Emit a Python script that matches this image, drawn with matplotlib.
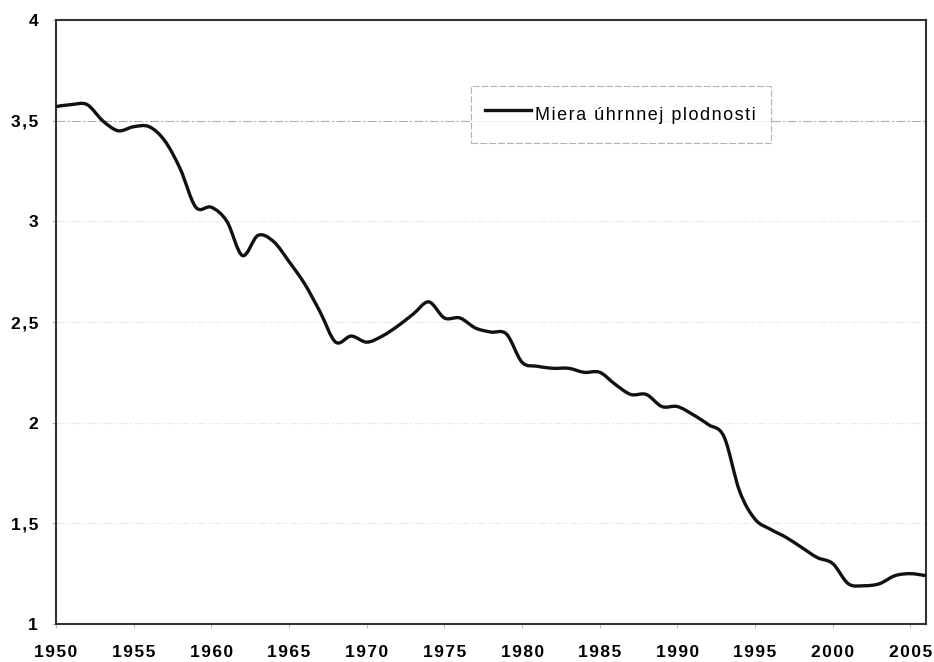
import matplotlib
matplotlib.use("Agg")
import matplotlib.pyplot as plt
from matplotlib.path import Path
from matplotlib.patches import PathPatch
from matplotlib.lines import Line2D
import numpy as np

years = list(range(1950, 2007))
tfr = [3.57, 3.58, 3.58, 3.50, 3.45, 3.47, 3.47, 3.40, 3.26, 3.07,
       3.07, 3.00, 2.83, 2.93, 2.90, 2.80, 2.69, 2.55, 2.40, 2.43,
       2.40, 2.43, 2.48, 2.54, 2.60, 2.52, 2.52, 2.47, 2.45, 2.44,
       2.30, 2.28, 2.27, 2.27, 2.25, 2.25, 2.19, 2.14, 2.14, 2.08,
       2.08, 2.04, 1.99, 1.93, 1.66, 1.52, 1.47, 1.43, 1.38, 1.33,
       1.30, 1.20, 1.19, 1.20, 1.24, 1.25, 1.24]
series_label = "Miera úhrnnej plodnosti"
x_ticks = list(range(1950, 2006, 5))
y_ticks = [1, 1.5, 2, 2.5, 3, 3.5, 4]
y_tick_labels = ["1", "1,5", "2", "2,5", "3", "3,5", "4"]

plt.rcParams['font.family'] = ['Liberation Sans', 'DejaVu Sans']

HAIR = "\u200a"


def spaced(s, sep):
    return sep.join(list(s))


fig = plt.figure(figsize=(9.34, 6.62), dpi=100)
ax = fig.add_axes([56/934, 38/662, 870/934, 604/662])
ax.set_xlim(1950, 2006)
ax.set_ylim(1, 4)

# gridlines
for yv in y_ticks[1:-1]:
    ax.axhline(yv, color='#ececec' if yv != 3.5 else '#b0b0b0',
               lw=0.8, ls=(0, (8, 2, 2, 2)), zorder=1)

# smoothed line (Excel-like) built from the data points
x = np.array(years, dtype=float)
y = np.array(tfr, dtype=float)
verts = [(x[0], y[0])]
codes = [Path.MOVETO]
n = len(x)
for i in range(n - 1):
    p0 = np.array([x[max(i - 1, 0)], y[max(i - 1, 0)]])
    p1 = np.array([x[i], y[i]])
    p2 = np.array([x[i + 1], y[i + 1]])
    p3 = np.array([x[min(i + 2, n - 1)], y[min(i + 2, n - 1)]])
    c1 = p1 + (p2 - p0) / 6.0
    c2 = p2 - (p3 - p1) / 6.0
    verts += [tuple(c1), tuple(c2), tuple(p2)]
    codes += [Path.CURVE4] * 3
patch = PathPatch(Path(verts, codes), facecolor='none', edgecolor='#111111',
                  lw=2.4, capstyle='round', joinstyle='round', zorder=3,
                  clip_on=True)
ax.add_patch(patch)

for s in ax.spines.values():
    s.set_color('#333333')
    s.set_linewidth(1.5)

ax.set_xticks(x_ticks)
ax.set_xticklabels([spaced(str(v), HAIR) for v in x_ticks],
                   fontsize=12.5, fontweight='bold')
ax.set_yticks(y_ticks)
ax.set_yticklabels([spaced(t, HAIR) for t in y_tick_labels],
                   fontsize=12.5, fontweight='bold')
ax.tick_params(axis='x', length=3, color='#bbbbbb', pad=12)
ax.tick_params(axis='y', length=3, color='#bbbbbb', pad=10)

handle = Line2D([0], [0], color='#111111', lw=2.4)
leg = ax.legend([handle], [spaced(series_label, HAIR)], loc='upper left',
                bbox_to_anchor=(0.477, 0.781, 0.345, 0.11), mode='expand',
                fontsize=13, frameon=True, fancybox=False,
                handlelength=2.55, handletextpad=0.2, borderpad=0.78,
                handleheight=2.1, borderaxespad=0)
fr = leg.get_frame()
fr.set_edgecolor('#a0a0a0')
fr.set_linewidth(0.8)
fr.set_linestyle((0, (6, 2)))

fig.savefig("out.png", dpi=100)
